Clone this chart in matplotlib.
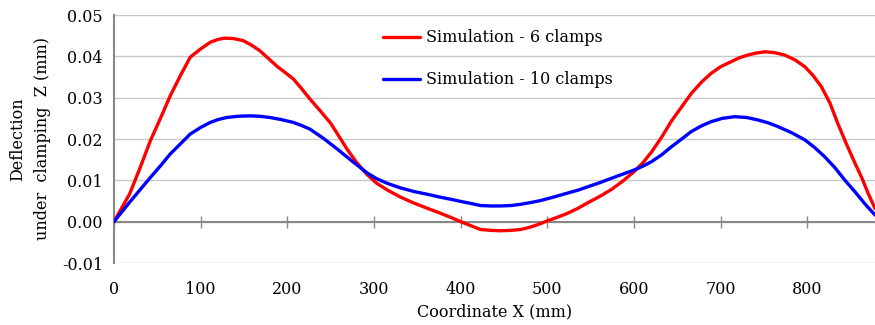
import matplotlib
matplotlib.use("Agg")
import matplotlib.pyplot as plt

# values (x in mm, deflection in mm)
x_six = [0, 18, 30, 42, 54, 65, 77, 88, 100, 111, 120, 128, 138, 149, 158, 168, 178,
         188, 198, 207, 216, 226, 238, 250, 260, 269, 280, 292, 303, 315, 330, 346,
         362, 377, 389, 400, 412, 423, 435, 446, 458, 469, 477, 485, 493, 500, 512,
         523, 535, 546, 562, 574, 587, 600, 610, 620, 632, 643, 655, 666, 678, 689,
         700, 712, 721, 731, 741, 751, 762, 774, 786, 797, 806, 816, 826, 835, 845,
         855, 863, 870, 878]
z_six = [0.0, 0.0067, 0.0130, 0.0196, 0.0252, 0.0305, 0.0355, 0.0398, 0.0418, 0.0434,
         0.0441, 0.0444, 0.0443, 0.0438, 0.0428, 0.0414, 0.0395, 0.0376, 0.0360, 0.0345,
         0.0323, 0.0297, 0.0268, 0.0238, 0.0205, 0.0175, 0.0143, 0.0114, 0.0093, 0.0077,
         0.0060, 0.0045, 0.0032, 0.0020, 0.0010, 0.0, -0.0010, -0.0019, -0.0021, -0.0022,
         -0.0021, -0.0019, -0.0015, -0.0010, -0.0004, 0.0002, 0.0011, 0.0020, 0.0032,
         0.0045, 0.0063, 0.0078, 0.0098, 0.0121, 0.0142, 0.0168, 0.0205, 0.0243, 0.0278,
         0.0310, 0.0338, 0.0359, 0.0375, 0.0387, 0.0396, 0.0403, 0.0408, 0.0411, 0.0409,
         0.0403, 0.0391, 0.0375, 0.0355, 0.0327, 0.0287, 0.0238, 0.0188, 0.0141, 0.0105,
         0.0069, 0.0032]

x_ten = [0, 18, 30, 42, 54, 65, 77, 88, 100, 111, 120, 130, 143, 157, 168, 180, 193,
         207, 216, 226, 242, 258, 275, 292, 303, 315, 330, 346, 362, 377, 389, 400,
         412, 423, 435, 446, 458, 469, 480, 492, 508, 523, 535, 546, 560, 574, 587,
         600, 610, 620, 632, 643, 655, 666, 678, 689, 702, 716, 730, 743, 755, 766,
         782, 797, 808, 820, 832, 843, 855, 866, 878]
z_ten = [0.0, 0.0047, 0.0077, 0.0107, 0.0136, 0.0164, 0.0189, 0.0212, 0.0228, 0.0240,
         0.0247, 0.0252, 0.0255, 0.0256, 0.0255, 0.0252, 0.0247, 0.0240, 0.0233, 0.0224,
         0.0201, 0.0175, 0.0146, 0.0118, 0.0104, 0.0093, 0.0082, 0.0073, 0.0066, 0.0059,
         0.0054, 0.0049, 0.0044, 0.0039, 0.0038, 0.0038, 0.0039, 0.0042, 0.0046, 0.0051,
         0.0060, 0.0069, 0.0076, 0.0084, 0.0094, 0.0105, 0.0115, 0.0125, 0.0134, 0.0145,
         0.0162, 0.0181, 0.0200, 0.0218, 0.0232, 0.0242, 0.0250, 0.0254, 0.0252, 0.0246,
         0.0239, 0.0230, 0.0215, 0.0198, 0.0180, 0.0157, 0.0130, 0.0101, 0.0072, 0.0044,
         0.0016]

x_ticks = [0, 100, 200, 300, 400, 500, 600, 700, 800]
y_ticks = [-0.01, 0.0, 0.01, 0.02, 0.03, 0.04, 0.05]

plt.rcParams["font.family"] = ["DejaVu Serif"]

fig = plt.figure(figsize=(8.75, 3.25), dpi=100)
ax = fig.add_axes([114 / 875, 62 / 325, 761 / 875, 248 / 325])

ax.plot(x_six, z_six, color="#ff0000", lw=2.4, label="Simulation - 6 clamps", zorder=4,
        solid_capstyle="round", solid_joinstyle="round")
ax.plot(x_ten, z_ten, color="#0000ff", lw=2.4, label="Simulation - 10 clamps", zorder=4,
        solid_capstyle="round", solid_joinstyle="round")

ax.set_xlim(0, 878)
ax.set_ylim(-0.01, 0.05)
ax.set_yticks(y_ticks)
ax.set_yticklabels([f"{v:.2f}" for v in y_ticks])
ax.set_xticks(x_ticks)
ax.grid(axis="y", color="#c8c8c8", lw=1)
ax.set_axisbelow(True)

for s in ("top", "right"):
    ax.spines[s].set_visible(False)
ax.spines["left"].set_color("#888888")
ax.spines["left"].set_linewidth(1.5)
ax.spines["bottom"].set_position(("data", 0))
ax.spines["bottom"].set_color("#888888")
ax.spines["bottom"].set_linewidth(1.5)
ax.spines["bottom"].set_zorder(3)
ax.tick_params(axis="y", length=0, pad=8, labelsize=11.5)
ax.tick_params(axis="x", direction="inout", length=9, width=1, color="#888888",
               pad=38, labelsize=11.5)

ax.set_xlabel("Coordinate X (mm)", fontsize=11.5, labelpad=4)
ax.set_ylabel("Deflection\nunder  clamping  Z (mm)", fontsize=11.5, labelpad=8,
              linespacing=1.55)

ax.legend(loc="upper left", bbox_to_anchor=(0.335, 1.0), frameon=False, fontsize=11.5,
          handlelength=2.3, handletextpad=0.4, labelspacing=1.55)

fig.savefig("out.png", dpi=100)
